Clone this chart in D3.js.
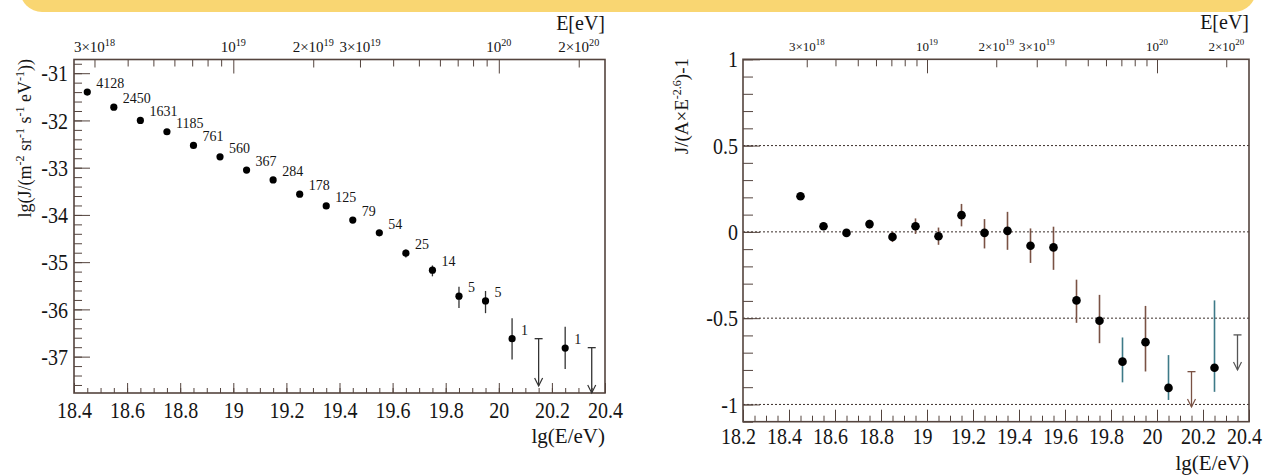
<!DOCTYPE html>
<html>
<head>
<meta charset="utf-8">
<script src="https://cdn.jsdelivr.net/npm/d3@7"></script>
<style>
  body { margin: 0; background: #fff; }
  svg text { font-family: "Liberation Serif", "DejaVu Serif", serif !important; fill: #151515; }
</style>
</head>
<body>
<svg id="chart" width="1264" height="475"></svg>
<script>
// ---- data ----
const binCentres = [18.45, 18.55, 18.65, 18.75, 18.85, 18.95, 19.05, 19.15, 19.25, 19.35,
                    19.45, 19.55, 19.65, 19.75, 19.85, 19.95, 20.05, 20.15, 20.25, 20.35];

// left panel: lg(J), number of events, asymmetric errors (null = upper limit bin)
const fluxLg = [-31.40, -31.72, -32.00, -32.24, -32.53, -32.77, -33.05, -33.26, -33.56, -33.81,
                -34.11, -34.38, -34.81, -35.17, -35.72, -35.82, -36.62, null, -36.82, null];
const fluxErrUp = [0, 0, 0, 0, 0.01, 0.01, 0.01, 0.02, 0.02, 0.03,
                   0.04, 0.05, 0.08, 0.10, 0.20, 0.21, 0.43, null, 0.45, null];
const fluxErrDown = [0, 0, 0, 0, 0.01, 0.01, 0.01, 0.02, 0.02, 0.03,
                     0.04, 0.05, 0.09, 0.13, 0.25, 0.26, 0.44, null, 0.44, null];
const eventCounts = [4128, 2450, 1631, 1185, 761, 560, 367, 284, 178, 125,
                     79, 54, 25, 14, 5, 5, 1, null, 1, null];
const fluxLimitTop = [null, null, null, null, null, null, null, null, null, null,
                      null, null, null, null, null, null, null, -36.62, null, -36.81];
const fluxLimitTip = [null, null, null, null, null, null, null, null, null, null,
                      null, null, null, null, null, null, null, -37.62, null, -37.77];

// right panel: J/(A E^-2.6) - 1
const ratio = [0.206, 0.033, -0.006, 0.045, -0.029, 0.033, -0.025, 0.097, -0.006, 0.006,
               -0.080, -0.090, -0.397, -0.515, -0.752, -0.639, -0.904, null, -0.787, null];
const ratioErrUp = [0.01, 0.015, 0.02, 0.025, 0.03, 0.045, 0.05, 0.065, 0.08, 0.11,
                    0.10, 0.12, 0.12, 0.15, 0.14, 0.21, 0.19, null, 0.39, null];
const ratioErrDown = [0.01, 0.015, 0.02, 0.025, 0.03, 0.045, 0.05, 0.065, 0.09, 0.11,
                      0.10, 0.13, 0.13, 0.13, 0.12, 0.17, 0.07, null, 0.14, null];
const ratioLimitTop = [null, null, null, null, null, null, null, null, null, null,
                       null, null, null, null, null, null, null, -0.81, null, -0.597];
const ratioLimitTip = [null, null, null, null, null, null, null, null, null, null,
                       null, null, null, null, null, null, null, -1.015, null, -0.80];
const refLevels = [0.5, 0, -0.5, -1];

// tick labels
const leftXTicks = [18.4, 18.6, 18.8, 19, 19.2, 19.4, 19.6, 19.8, 20, 20.2, 20.4];
const leftYTicks = [-37, -36, -35, -34, -33, -32, -31];
const rightXTicks = [18.2, 18.4, 18.6, 18.8, 19, 19.2, 19.4, 19.6, 19.8, 20, 20.2, 20.4];
const rightYTicks = [-1, -0.5, 0, 0.5, 1];
const energyTickMantissa = [3, 1, 2, 3, 1, 2];
const energyTickExponent = [18, 19, 19, 19, 20, 20];
const energyMinorTicks = [4e18, 5e18, 6e18, 7e18, 8e18, 9e18, 4e19, 5e19, 6e19, 7e19, 8e19, 9e19];

// error bar colours as they come out in the scan (style, not data)
const ratioBarColour = i => ([14, 16, 18].includes(i) ? "#3d7a88" : (i === 19 ? "#555" : "#7a5244"));

const frameColour = "#54443e";
const labelStretch = "scale(1,1.2)";   // the scanned figure is a bit taller than wide
const svg = d3.select("#chart");

// yellow banner edge at the top
svg.append("rect")
  .attr("x", 20).attr("y", -40)
  .attr("width", 1236).attr("height", 52)
  .attr("rx", 22)
  .attr("fill", "#f9d672");

function fmt(d) { return String(d); }

// strip d3's default axis font so the serif rule applies
function plain(a) {
  a.attr("font-family", null).attr("font-size", null);
  a.select(".domain").remove();
  a.selectAll("line").attr("stroke", frameColour);
}

function drawFrame(g, x, y, opts) {
  const [x0, x1] = x.range();
  const [y0, y1] = y.range();
  const w = x1 - x0, h = y0 - y1;

  // minor ticks first
  const minorX = d3.range(Math.round(x.domain()[0] * 20), Math.round(x.domain()[1] * 20) + 1)
    .map(v => v / 20);
  g.append("g")
    .attr("transform", `translate(0,${y0})`)
    .call(d3.axisBottom(x).tickValues(minorX).tickSize(-opts.xMinor).tickFormat(""))
    .call(plain);

  g.append("g")
    .attr("transform", `translate(0,${y0})`)
    .call(d3.axisBottom(x).tickValues(opts.xTicks).tickSize(-opts.xMajor)
      .tickPadding(opts.xPad).tickFormat(fmt))
    .call(plain)
    .selectAll("text")
    .attr("font-size", 20)
    .attr("dx", opts.xLabelShift)
    .attr("transform", labelStretch);

  const minorY = d3.range(Math.ceil(y.domain()[0] / opts.yMinorStep),
                          Math.floor(y.domain()[1] / opts.yMinorStep) + 1)
    .map(v => +(v * opts.yMinorStep).toFixed(3));
  g.append("g")
    .attr("transform", `translate(${x0},0)`)
    .call(d3.axisLeft(y).tickValues(minorY).tickSize(-opts.yMinor).tickFormat(""))
    .call(plain);

  g.append("g")
    .attr("transform", `translate(${x0},0)`)
    .call(d3.axisLeft(y).tickValues(opts.yTicks).tickSize(-opts.yMajor)
      .tickPadding(opts.yPad).tickFormat(fmt))
    .call(plain)
    .selectAll("text")
    .attr("font-size", 20)
    .attr("transform", labelStretch);

  // top energy axis
  const xE = d3.scaleLog()
    .domain([Math.pow(10, x.domain()[0]), Math.pow(10, x.domain()[1])])
    .range(x.range());
  const energyTicks = energyTickMantissa.map((m, i) => m * Math.pow(10, energyTickExponent[i]));
  g.append("g")
    .attr("transform", `translate(0,${y1})`)
    .call(d3.axisTop(xE).tickValues(energyMinorTicks).tickSize(-7).tickFormat(""))
    .call(plain);
  g.append("g")
    .attr("transform", `translate(0,${y1})`)
    .call(d3.axisTop(xE).tickValues(energyTicks).tickSize(-7).tickFormat(""))
    .call(plain)
    .selectAll("line")
    .attr("y2", (d, i) => energyTickMantissa[i] === 1 ? 14 : 8);

  const eLabels = g.append("g");
  energyTicks.forEach((e, i) => {
    const t = eLabels.append("text")
      .attr("x", xE(e)).attr("y", y1 - 8)
      .attr("text-anchor", "middle")
      .attr("font-size", opts.eFont);
    t.append("tspan").text(energyTickMantissa[i] === 1 ? "10" : `${energyTickMantissa[i]}\u00d710`);
    t.append("tspan").attr("dy", -6).attr("font-size", opts.eFont * 0.68)
      .text(energyTickExponent[i]);
  });

  g.append("text")
    .attr("x", x1).attr("y", y1 - 30)
    .attr("text-anchor", "end")
    .attr("font-size", 20)
    .text("E[eV]");

  g.append("text")
    .attr("x", x1).attr("y", opts.xTitleY)
    .attr("text-anchor", "end")
    .attr("font-size", 21)
    .text("lg(E/eV)");

  g.append("rect")
    .attr("x", x0).attr("y", y1)
    .attr("width", w).attr("height", h)
    .attr("fill", "none")
    .attr("stroke", frameColour)
    .attr("stroke-width", 1.6);
}

function drawLimit(g, xp, yTop, yTip, colour) {
  g.append("line").attr("x1", xp).attr("x2", xp).attr("y1", yTop).attr("y2", yTip)
    .attr("stroke", colour).attr("stroke-width", 1.3);
  g.append("line").attr("x1", xp - 4).attr("x2", xp + 4).attr("y1", yTop).attr("y2", yTop)
    .attr("stroke", colour).attr("stroke-width", 1.3);
  g.append("path")
    .attr("d", `M${xp - 4},${yTip - 8}L${xp},${yTip}L${xp + 4},${yTip - 8}`)
    .attr("fill", "none").attr("stroke", colour).attr("stroke-width", 1.2);
}

// ---------------- left panel: flux ----------------
const xL = d3.scaleLinear().domain([18.4, 20.4]).range([74, 605]);
const yL = d3.scaleLinear().domain([-37.77, -30.71]).range([393, 59.5]);
const gL = svg.append("g");

drawFrame(gL, xL, yL, {
  xTicks: leftXTicks, yTicks: leftYTicks, yMinorStep: 0.2,
  xMajor: 10, xMinor: 5, yMajor: 16, yMinor: 8, xPad: 6.5, yPad: 6, xLabelShift: 0,
  xTitleY: 443, eFont: 15
});

// y title
const tL = gL.append("text")
  .attr("transform", "translate(31,59) rotate(-90)")
  .attr("text-anchor", "end")
  .attr("font-size", 18);
tL.append("tspan").text("lg(J/(m");
tL.append("tspan").attr("dy", -7).attr("font-size", 12).text("-2");
tL.append("tspan").attr("dy", 7).text(" sr");
tL.append("tspan").attr("dy", -7).attr("font-size", 12).text("-1");
tL.append("tspan").attr("dy", 7).text(" s");
tL.append("tspan").attr("dy", -7).attr("font-size", 12).text("-1");
tL.append("tspan").attr("dy", 7).text(" eV");
tL.append("tspan").attr("dy", -7).attr("font-size", 12).text("-1");
tL.append("tspan").attr("dy", 7).text("))");

const leftPts = binCentres.map((c, i) => ({
  x: c, y: fluxLg[i], up: fluxErrUp[i], dn: fluxErrDown[i], n: eventCounts[i],
  lt: fluxLimitTop[i], lb: fluxLimitTip[i]
}));

gL.selectAll(".errL")
  .data(leftPts.filter(d => d.y !== null && (d.up + d.dn) > 0.05))
  .enter().append("line")
  .attr("x1", d => xL(d.x)).attr("x2", d => xL(d.x))
  .attr("y1", d => yL(d.y + d.up)).attr("y2", d => yL(d.y - d.dn))
  .attr("stroke", "#333").attr("stroke-width", 1.3);

gL.selectAll(".dotL")
  .data(leftPts.filter(d => d.y !== null))
  .enter().append("circle")
  .attr("cx", d => xL(d.x)).attr("cy", d => yL(d.y))
  .attr("r", 3.6).attr("fill", "#000");

gL.selectAll(".cntL")
  .data(leftPts.filter(d => d.n !== null))
  .enter().append("text")
  .attr("x", d => xL(d.x) + 9).attr("y", d => yL(d.y) - 4)
  .attr("font-size", 14)
  .text(d => d.n);

leftPts.filter(d => d.lt !== null)
  .forEach(d => drawLimit(gL, xL(d.x), yL(d.lt), yL(d.lb), "#333"));

// ---------------- right panel: ratio ----------------
const xR = d3.scaleLinear().domain([18.2, 20.4]).range([743, 1249]);
const yR = d3.scaleLinear().domain([-1.1, 1]).range([421.7, 59.3]);
const gR = svg.append("g");

gR.selectAll(".ref")
  .data(refLevels)
  .enter().append("line")
  .attr("x1", xR(18.2)).attr("x2", xR(20.4))
  .attr("y1", d => yR(d)).attr("y2", d => yR(d))
  .attr("stroke", "#3a2e2a").attr("stroke-width", 1)
  .attr("stroke-dasharray", "2,2");

drawFrame(gR, xR, yR, {
  xTicks: rightXTicks, yTicks: rightYTicks, yMinorStep: 0.1,
  xMajor: 12, xMinor: 6, yMajor: 17, yMinor: 10, xPad: 4.5, yPad: 5, xLabelShift: -5,
  xTitleY: 470, eFont: 13
});

const tR = gR.append("text")
  .attr("transform", "translate(688,58) rotate(-90)")
  .attr("text-anchor", "end")
  .attr("font-size", 19);
tR.append("tspan").text("J/(A\u00d7E");
tR.append("tspan").attr("dy", -7).attr("font-size", 12).text("-2.6");
tR.append("tspan").attr("dy", 7).text(")-1");

const rightPts = binCentres.map((c, i) => ({
  i: i, x: c, y: ratio[i], up: ratioErrUp[i], dn: ratioErrDown[i],
  lt: ratioLimitTop[i], lb: ratioLimitTip[i]
}));

gR.selectAll(".errR")
  .data(rightPts.filter(d => d.y !== null))
  .enter().append("line")
  .attr("x1", d => xR(d.x)).attr("x2", d => xR(d.x))
  .attr("y1", d => yR(d.y + d.up)).attr("y2", d => yR(d.y - d.dn))
  .attr("stroke", d => ratioBarColour(d.i)).attr("stroke-width", 1.6);

gR.selectAll(".dotR")
  .data(rightPts.filter(d => d.y !== null))
  .enter().append("circle")
  .attr("cx", d => xR(d.x)).attr("cy", d => yR(d.y))
  .attr("r", 4.3).attr("fill", "#000");

rightPts.filter(d => d.lt !== null)
  .forEach(d => drawLimit(gR, xR(d.x), yR(d.lt), yR(d.lb), ratioBarColour(d.i)));
</script>
</body>
</html>
